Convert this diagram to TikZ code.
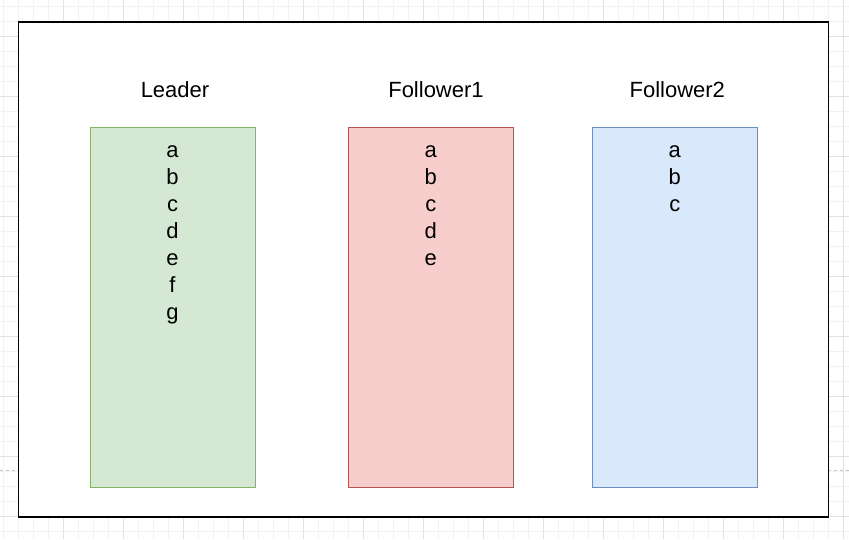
\documentclass[tikz,border=0pt]{standalone}
\usepackage{fontspec}
\setmainfont{Liberation Sans}
\usetikzlibrary{positioning}
\definecolor{gridMinor}{HTML}{F2F2F2}
\definecolor{gridMajor}{HTML}{E2E2E2}
\definecolor{leaderFill}{HTML}{D5E8D4}
\definecolor{leaderDraw}{HTML}{82B366}
\definecolor{followerAFill}{HTML}{F8CECC}
\definecolor{followerADraw}{HTML}{B85450}
\definecolor{followerBFill}{HTML}{DAE8FC}
\definecolor{followerBDraw}{HTML}{6C8EBF}
\tikzset{
  logNode/.style={%
    rectangle, minimum width=165pt, minimum height=360pt,
    inner sep=0pt, outer sep=0pt, line width=1pt,
  },
  titleNode/.style={%
    anchor=base, inner sep=0pt, font=\fontsize{22}{26}\selectfont,
  },
  entryNode/.style={%
    anchor=base, inner sep=0pt, font=\fontsize{22}{26}\selectfont,
  }
}

\begin{document}
\begin{tikzpicture}[x=1pt,y=-1pt]
        \useasboundingbox (0,0) rectangle (849,539);
        % canvas grid
        \foreach \i in {0,...,56}
        {
          \draw[gridMinor,line width=0.8pt] ({3+15*\i},0) -- ({3+15*\i},539);
        }
        \foreach \i in {0,...,35}
        {
          \draw[gridMinor,line width=0.8pt] (0,{6+15*\i}) -- (849,{6+15*\i});
        }
        \foreach \i in {0,...,13}
        {
          \draw[gridMajor,line width=0.8pt] ({63+60*\i},0) -- ({63+60*\i},539);
        }
        \foreach \i in {0,...,8}
        {
          \draw[gridMajor,line width=0.8pt] (0,{36+60*\i}) -- (849,{36+60*\i});
        }
        \coordinate (breakLeft) at (0,470);
        \coordinate (breakRight) at (849,470);
        \draw[gray!45,dashed,line width=0.8pt] (breakLeft) -- (breakRight);
        % frame
        \node[draw=black,fill=white,line width=1.3pt,minimum width=810pt,minimum height=495pt,inner sep=0pt] (frame) at (423.5,269.5) {};
        % logs
        \node[logNode,fill=leaderFill,draw=leaderDraw] (leaderLog) at (172.5,307.5) {};
        \node[logNode,fill=followerAFill,draw=followerADraw] (followerALog) at (430.8,307.5) {};
        \node[logNode,fill=followerBFill,draw=followerBDraw] (followerBLog) at (674.8,307.5) {};
        \node[titleNode] (leaderTitle) at (175,97) {Leader};
        \node[titleNode] (followerATitle) at (436,97) {Follower1};
        \node[titleNode] (followerBTitle) at (677.3,97) {Follower2};
        \foreach \e [count=\i] in {a,b,c,d,e,f,g}
        {
          \node[entryNode] (leaderEntry\i) at (172.5,{157+27*(\i-1)}) {\e};
        }
        \foreach \e [count=\i] in {a,b,c,d,e}
        {
          \node[entryNode] (followerAEntry\i) at (430.8,{157+27*(\i-1)}) {\e};
        }
        \foreach \e [count=\i] in {a,b,c}
        {
          \node[entryNode] (followerBEntry\i) at (674.8,{157+27*(\i-1)}) {\e};
        }
      \end{tikzpicture}
\end{document}
